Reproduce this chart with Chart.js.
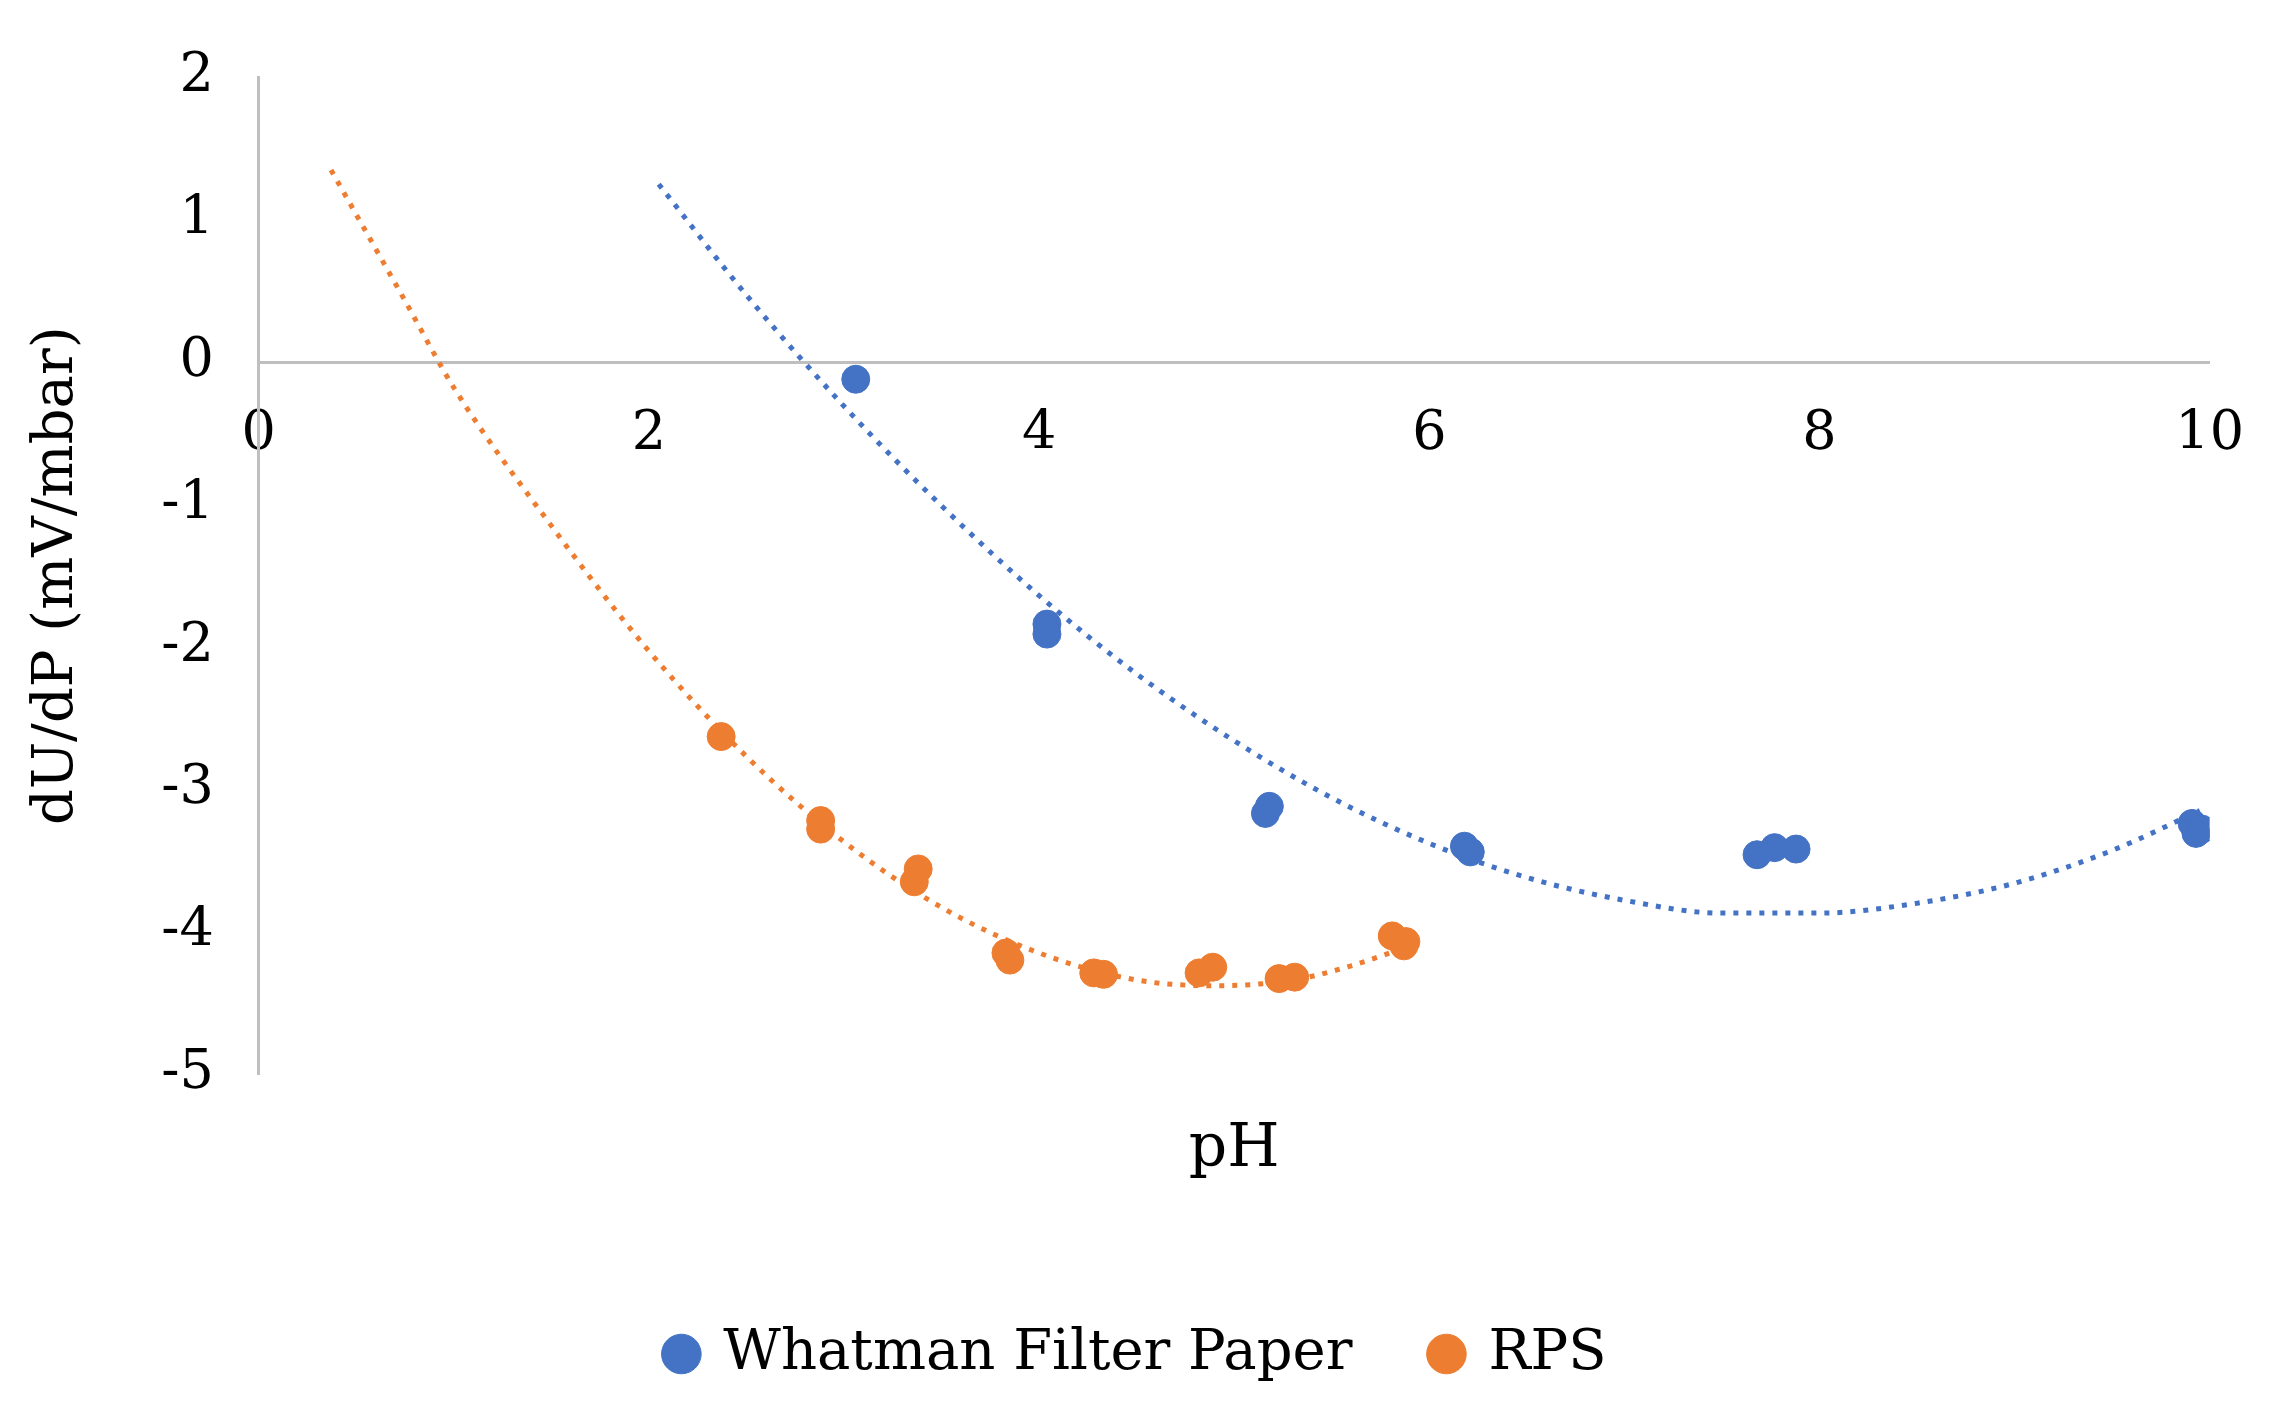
<!DOCTYPE html>
<html><head><meta charset="utf-8">
<script src="https://cdn.jsdelivr.net/npm/chart.js@4/dist/chart.umd.min.js"></script>
<style>html,body{margin:0;background:#fff}#w{width:2284px;height:1412px}</style>
</head><body><div id="w"><canvas id="c"></canvas></div>
<script>
const whatmanX=[3.06,4.04,4.04,5.16,5.18,6.18,6.21,7.68,7.77,7.88,9.91,9.93,9.96];
const whatmanY=[-0.12,-1.84,-1.91,-3.17,-3.12,-3.40,-3.44,-3.46,-3.41,-3.42,-3.24,-3.31,-3.28];
const rpsX=[2.37,2.88,2.88,3.38,3.36,3.83,3.85,4.28,4.33,4.82,4.89,5.23,5.31,5.81,5.87,5.88];
const rpsY=[-2.63,-3.22,-3.28,-3.56,-3.65,-4.15,-4.20,-4.29,-4.30,-4.29,-4.25,-4.33,-4.32,-4.03,-4.10,-4.07];
const whatmanTrendX=[2.05,2.5,3,3.5,4,4.5,5,5.5,6,6.5,7,7.5,8,8.5,9,9.5,9.95];
const whatmanTrendY=[1.25,0.47,-0.31,-1.01,-1.64,-2.19,-2.66,-3.06,-3.38,-3.62,-3.78,-3.87,-3.87,-3.80,-3.66,-3.43,-3.15];
const rpsTrendX=[0.37,0.75,1,1.5,2,2.5,3,3.5,4,4.5,4.9,5.3,5.6,5.9];
const rpsTrendY=[1.35,0.43,-0.18,-1.15,-2.03,-2.77,-3.37,-3.83,-4.15,-4.34,-4.38,-4.34,-4.24,-4.10];
const blue='#4472C4', orange='#ED7D31';
const zip=(a,b)=>a.map((v,i)=>({x:v,y:b[i]}));
const F="'DejaVu Serif', serif";
new Chart(document.getElementById('c'),{
 type:'scatter',
 data:{datasets:[
  {label:'Whatman Filter Paper',data:zip(whatmanX,whatmanY),backgroundColor:blue,borderColor:blue,pointRadius:14,order:1},
  {label:'RPS',data:zip(rpsX,rpsY),backgroundColor:orange,borderColor:orange,pointRadius:14,order:1},
  {label:'t1',data:zip(whatmanTrendX,whatmanTrendY),showLine:true,cubicInterpolationMode:'monotone',borderColor:blue,borderWidth:5,borderDash:[5,8],pointRadius:0,order:2},
  {label:'t2',data:zip(rpsTrendX,rpsTrendY),showLine:true,cubicInterpolationMode:'monotone',borderColor:orange,borderWidth:5,borderDash:[5,8],pointRadius:0,order:2}
 ]},
 options:{responsive:true,maintainAspectRatio:false,animation:false,
  layout:{padding:{left:20,right:30,top:30,bottom:20}},
  plugins:{legend:{position:'bottom',labels:{filter:i=>i.datasetIndex<2,usePointStyle:true,pointStyle:'circle',boxWidth:28,boxHeight:28,padding:80,color:'#000',font:{family:F,size:56}}},tooltip:{enabled:false}},
  scales:{
   x:{type:'linear',min:0,max:10,position:{y:0},grid:{display:false,drawTicks:false},border:{color:'#bfbfbf',width:3},
      ticks:{stepSize:2,color:'#000',font:{family:F,size:54},padding:40}},
   x2:{type:'linear',min:0,max:10,position:'bottom',grid:{display:false,drawTicks:false},border:{display:false},
      ticks:{display:false},title:{display:true,text:'pH',color:'#000',font:{family:F,size:60},padding:{top:40,bottom:60}}},
   y:{min:-5,max:2,position:'left',grid:{display:false,drawTicks:false},border:{color:'#bfbfbf',width:3},
      ticks:{stepSize:1,color:'#000',font:{family:F,size:54},padding:45},
      title:{display:true,text:'dU/dP (mV/mbar)',color:'#000',font:{family:F,size:56},padding:{bottom:25}}}
  }}
});
</script></body></html>
